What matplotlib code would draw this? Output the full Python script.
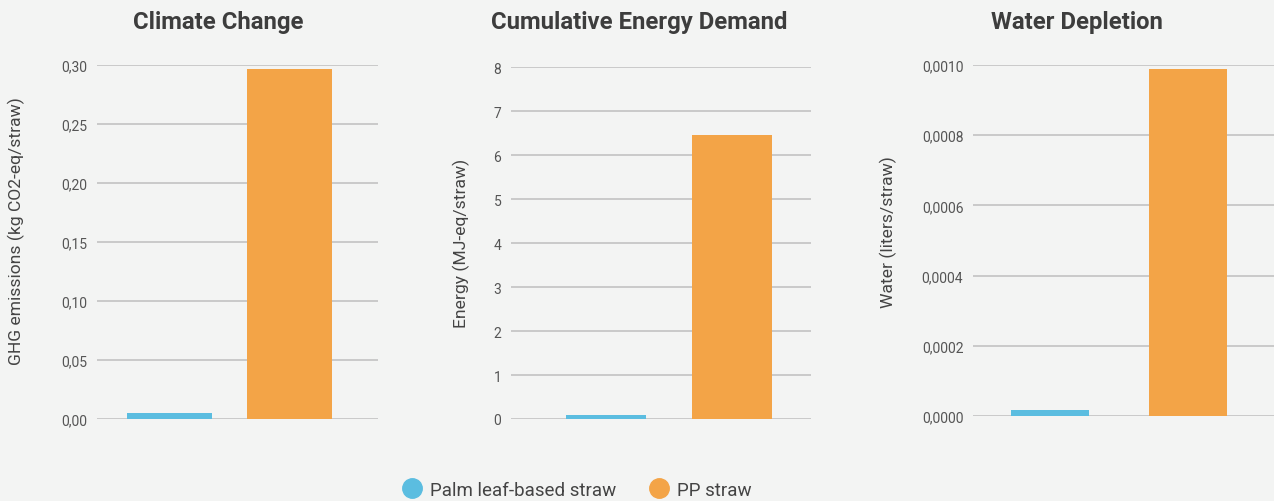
import matplotlib
matplotlib.use("Agg")
import matplotlib.pyplot as plt
import matplotlib.ticker as ticker
from matplotlib.lines import Line2D

plt.rcParams['font.family'] = ['Roboto', 'DejaVu Sans']

series = ["Palm leaf-based straw", "PP straw"]
colors = ["#5bbde0", "#f3a447"]

titles = ["Climate Change", "Cumulative Energy Demand", "Water Depletion"]
ylabels = ["GHG emissions (kg CO2-eq/straw)", "Energy (MJ-eq/straw)", "Water (liters/straw)"]

climate = [0.005, 0.297]
energy = [0.08, 6.45]
water = [0.000018, 0.00099]

climate_ticks = [0, 0.05, 0.10, 0.15, 0.20, 0.25, 0.30]
energy_ticks = [0, 1, 2, 3, 4, 5, 6, 7, 8]
water_ticks = [0, 0.0002, 0.0004, 0.0006, 0.0008, 0.0010]

bg = "#f3f4f3"
W, H = 1274, 502
fig = plt.figure(figsize=(W / 100, H / 100), dpi=100, facecolor=bg)


def px_axes(x0, x1, y_top, y_zero):
    return fig.add_axes([x0 / W, (H - y_zero) / H, (x1 - x0) / W, (y_zero - y_top) / H])


panels = [
    # axes box in px, xlim, bar width, decimals, ticks, values
    (px_axes(97, 378, 66, 420), (-0.604, 1.7375), 0.708, 2, climate_ticks, climate),
    (px_axes(511, 811, 68, 420), (-0.754, 1.627), 0.635, 0, energy_ticks, energy),
    (px_axes(973, 1274, 66, 417), (-0.558, 1.623), 0.565, 4, water_ticks, water),
]

for ax, xlim, bw, dec, ticks, vals in panels:
    ax.set_facecolor(bg)
    ax.bar([0, 1], vals, width=bw, color=colors, zorder=3)
    ax.set_xlim(*xlim)
    ax.set_ylim(0, ticks[-1])
    ax.set_yticks(ticks)
    ax.yaxis.set_major_formatter(ticker.FuncFormatter(
        lambda v, pos, d=dec: f"{v:.{d}f}".replace(".", ",")))
    ax.set_xticks([])
    ax.grid(axis="y", color="#c2c2c2", linewidth=1.2, zorder=0)
    for s in ax.spines.values():
        s.set_visible(False)
    ax.tick_params(axis="y", length=0, pad=7, labelsize=10, labelcolor="#555555")
    for lab in ax.get_yticklabels():
        lab.set_clip_on(False)

# titles
title_x = [218, 639, 1077]
for t, x in zip(titles, title_x):
    fig.text(x / W, 1 - 23 / H, t, ha="center", va="center", fontsize=17.2,
             fontweight="bold", color="#3d3d3d")

# y axis labels
ylab_pos = [(16, 231), (461, 243), (888, 232)]
for t, (x, y) in zip(ylabels, ylab_pos):
    fig.text(x / W, 1 - y / H, t, ha="center", va="center", rotation=90,
             fontsize=12.6, color="#444444")

# legend
handles = [Line2D([], [], marker="o", linestyle="", markersize=14,
                  markerfacecolor=c, markeredgecolor=c) for c in colors]
fig.legend(handles, series, loc="center", bbox_to_anchor=(577 / W, 1 - 491 / H),
           ncol=2, frameon=False, fontsize=13.5, labelcolor="#444444",
           handletextpad=0.46, columnspacing=1.8, handlelength=1.0,
           borderpad=0, borderaxespad=0)

fig.savefig("out.png", dpi=100, facecolor=bg)
